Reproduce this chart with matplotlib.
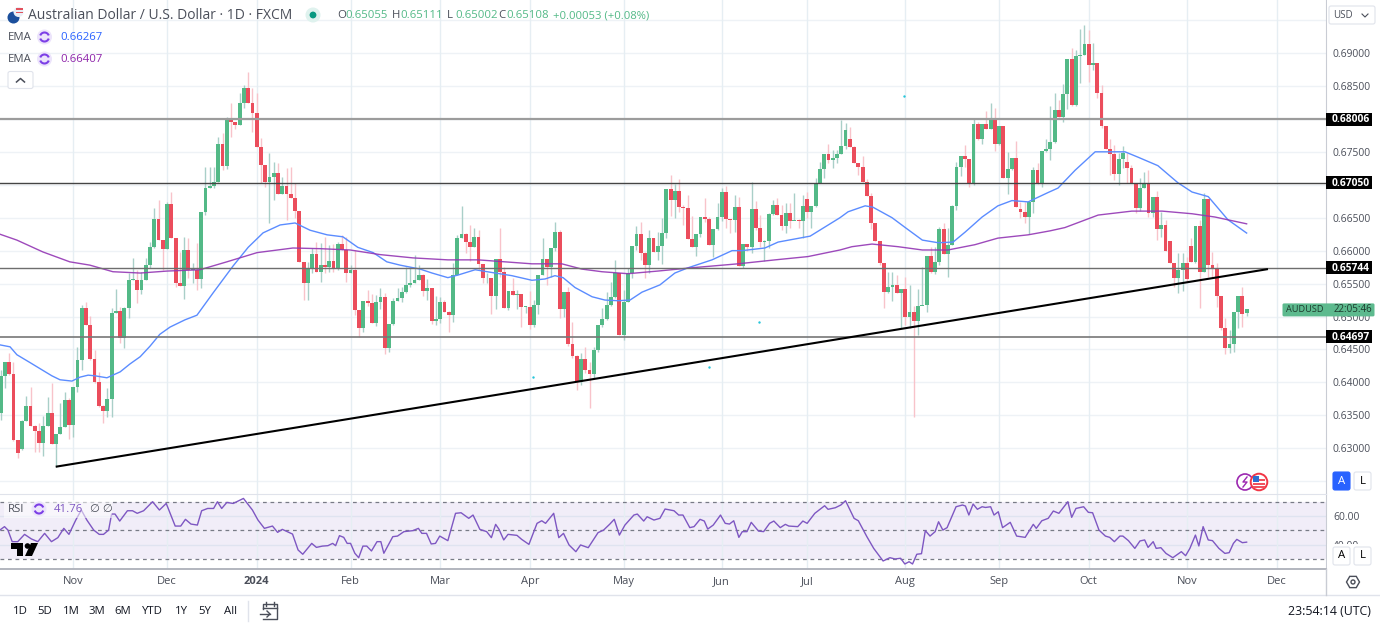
#AUD/USD daily candles with EMAs, RSI and hand drawn support lines

import numpy as np
import matplotlib
matplotlib.use("Agg")
import matplotlib.pyplot as plt
from matplotlib.patches import Rectangle, Circle, Polygon, Arc, FancyBboxPatch

# prices are kept in 1/10000 USD
close_e4 = [6410,6431,6413,6313,6293,6341,6364,6334,6326,6308,6334,6354,6307,6322,6332,6373,6335,6393,6434,6513,
6487,6436,6401,6364,6357,6375,6505,6508,6467,6513,6555,6555,6540,6555,6578,6605,6648,6616,6603,6671,
6619,6551,6546,6601,6571,6571,6557,6659,6695,6698,6704,6762,6729,6801,6795,6791,6824,6847,6824,6809,
6757,6730,6704,6712,6718,6686,6698,6686,6680,6660,6583,6551,6572,6595,6568,6578,6575,6584,6572,6610,
6601,6566,6571,6510,6483,6524,6521,6490,6522,6530,6452,6489,6524,6528,6537,6548,6551,6555,6563,6539,
6543,6493,6496,6522,6507,6502,6563,6619,6625,6613,6605,6621,6580,6558,6558,6531,6587,6568,6513,6539,
6533,6534,6515,6515,6487,6518,6563,6587,6575,6604,6628,6511,6537,6458,6440,6401,6436,6419,6413,6449,
6487,6496,6518,6530,6566,6472,6522,6566,6607,6625,6597,6578,6619,6598,6607,6627,6694,6677,6691,6667,
6665,6618,6605,6625,6651,6648,6609,6633,6651,6689,6648,6647,6667,6577,6610,6605,6663,6634,6613,6615,
6656,6670,6654,6637,6657,6645,6647,6645,6668,6659,6668,6703,6724,6747,6738,6741,6747,6759,6783,6757,
6733,6727,6704,6683,6642,6615,6581,6537,6545,6548,6536,6542,6499,6507,6493,6516,6518,6592,6568,6583,
6633,6595,6609,6668,6727,6744,6739,6703,6792,6770,6792,6785,6798,6762,6789,6710,6724,6741,6667,6659,
6651,6674,6722,6701,6751,6754,6765,6814,6803,6838,6891,6821,6896,6897,6914,6882,6885,6839,6789,6754,
6747,6716,6739,6748,6726,6703,6665,6695,6701,6657,6681,6633,6639,6599,6581,6558,6571,6581,6557,6583,
6637,6568,6678,6578,6572,6531,6483,6452,6458,6507,6531,6504,6510.8]

high_e4 = [6419,6431,6445,6431,6313,6343,6379,6393,6335,6338,6349,6378,6399,6322,6369,6385,6376,6393,6454,6518,
6522,6501,6449,6416,6366,6392,6513,6542,6515,6515,6566,6589,6571,6568,6589,6613,6665,6677,6616,6674,
6689,6619,6598,6621,6619,6581,6612,6659,6727,6727,6727,6772,6779,6803,6824,6795,6839,6852,6871,6847,
6839,6771,6730,6748,6735,6733,6712,6726,6727,6703,6660,6583,6583,6604,6613,6612,6621,6609,6610,6613,
6624,6621,6578,6601,6510,6524,6540,6534,6533,6543,6536,6489,6528,6543,6545,6575,6575,6593,6578,6565,
6557,6543,6531,6530,6525,6508,6581,6624,6668,6627,6639,6635,6631,6580,6566,6558,6587,6635,6575,6539,
6558,6540,6534,6516,6539,6525,6563,6619,6587,6604,6643,6631,6537,6545,6491,6442,6445,6454,6431,6454,
6487,6513,6537,6552,6586,6566,6540,6574,6607,6637,6643,6598,6631,6619,6628,6650,6694,6715,6701,6709,
6670,6685,6653,6625,6651,6680,6651,6633,6672,6695,6698,6648,6685,6682,6610,6610,6704,6675,6654,6616,
6657,6677,6680,6670,6672,6672,6688,6648,6685,6689,6668,6710,6735,6747,6762,6753,6753,6798,6794,6788,
6759,6733,6744,6709,6688,6642,6615,6581,6568,6568,6563,6542,6560,6548,6516,6542,6575,6592,6605,6605,
6636,6642,6635,6670,6735,6744,6761,6739,6801,6795,6792,6812,6824,6817,6789,6789,6750,6741,6767,6674,
6674,6674,6727,6733,6751,6770,6820,6839,6829,6853,6891,6908,6905,6937,6943,6935,6915,6885,6852,6789,
6770,6761,6748,6759,6748,6730,6703,6710,6719,6722,6681,6691,6659,6647,6615,6581,6596,6596,6590,6619,
6637,6647,6688,6678,6598,6581,6531,6498,6480,6507,6531,6545,6511.1]

low_e4 = [6343,6392,6411,6311,6285,6297,6341,6334,6294,6294,6288,6334,6307,6272,6322,6332,6314,6317,6385,6419,
6487,6434,6399,6363,6338,6348,6348,6505,6460,6452,6498,6555,6521,6534,6555,6574,6604,6616,6571,6603,
6619,6545,6546,6527,6558,6551,6540,6543,6654,6695,6695,6704,6722,6724,6772,6785,6791,6817,6824,6780,
6757,6703,6697,6642,6677,6686,6686,6647,6680,6650,6583,6525,6525,6566,6568,6552,6566,6568,6568,6571,
6601,6552,6566,6502,6469,6477,6516,6490,6486,6511,6443,6446,6487,6524,6522,6536,6545,6551,6555,6531,
6525,6489,6487,6490,6507,6477,6492,6563,6619,6597,6584,6605,6571,6551,6551,6504,6511,6560,6513,6510,
6533,6511,6484,6505,6481,6484,6504,6563,6548,6560,6599,6498,6499,6455,6437,6389,6396,6414,6361,6407,
6446,6484,6494,6516,6528,6472,6464,6522,6558,6601,6586,6558,6566,6598,6586,6580,6619,6653,6650,6659,
6639,6618,6605,6592,6621,6644,6609,6591,6631,6645,6635,6627,6628,6577,6574,6600,6597,6631,6605,6584,
6604,6654,6654,6631,6627,6635,6647,6635,6619,6650,6635,6667,6703,6710,6733,6726,6733,6747,6754,6757,
6733,6715,6704,6683,6633,6615,6578,6513,6536,6524,6536,6483,6487,6483,6348,6472,6518,6507,6566,6565,
6578,6595,6560,6609,6662,6713,6727,6697,6700,6768,6762,6785,6785,6752,6761,6710,6686,6722,6667,6650,
6642,6625,6657,6701,6697,6750,6738,6764,6803,6795,6815,6820,6820,6855,6897,6856,6874,6832,6786,6754,
6715,6707,6700,6726,6703,6703,6657,6660,6695,6651,6651,6616,6621,6599,6581,6545,6536,6539,6552,6583,
6581,6513,6568,6560,6558,6514,6480,6443,6445,6446,6483,6484,6500.2]

# opens follow the previous close except where the picture shows a gap
gap_opens_e4 = {0: 6354, 5: 6299, 189: 6679, 199: 6770, 239: 6663, 264: 6735, 274: 6615, 279: 6607, 292: 6505.5}

ema_fast_x = [-0.2,2.2,3.8,6.9,9.7,12,13.9,16.7,18.6,20.5,22.1,24.9,28,30.3,32.7,35,37.3,39.7,43.2,46,49.8,54.5,58,
61.5,65.5,69,72.5,76.5,80.2,83.7,87.3,90.5,93.6,98.3,101.1,104.8,107.2,111.2,115.9,119.8,124.5,127.6,129.9,131.8,
134.6,138.6,141.6,144.7,147.5,150.3,154.5,158,161.1,166.7,171.4,173.7,179.1,182.2,189.7,193.2,196.7,198.6,202.6,
204.4,208.9,212,216,219.7,223.2,226,230,233.7,237,240.8,245.4,247.8,251.8,256.5,259.5,263.5,266.5,271.2,275.9,
279.2,283,287.6,292]
ema_fast_e4 = [6457,6454,6442,6430,6419,6410,6404,6402,6408,6411,6410,6407,6416,6428,6439,6455,6473,6484,6495,6502,
6536,6577,6605,6627,6639,6642,6631,6624,6621,6605,6597,6583,6578,6572,6566,6559,6563,6571,6566,6562,6555,6557,
6562,6559,6544,6530,6525,6524,6525,6537,6548,6566,6574,6586,6600,6600,6604,6613,6622,6636,6650,6659,6668,6666,
6650,6635,6616,6612,6613,6628,6651,6668,6676,6674,6688,6695,6722,6750,6750,6750,6742,6729,6703,6689,6682,6647,6626.7]

ema_slow_x = [-0.2,3.8,9.9,16.2,20.9,26.3,32.7,39,46.7,53,60.1,68.5,74.8,81.9,88.9,96.6,104.8,111.9,118.2,124.5,
131.5,136.2,140.9,147,154,162,172.8,181.5,189.2,196.7,199.5,204.2,210.3,216,222,228.3,233.7,240.8,245.9,249.4,
257.2,265.1,272.2,279.2,284.6,292]
ema_slow_e4 = [6625,6616,6598,6583,6578,6568,6566,6569,6571,6583,6597,6604,6603,6601,6594,6589,6586,6586,6583,6580,
6580,6572,6568,6565,6569,6574,6580,6586,6591,6601,6606,6610,6606,6601,6601,6609,6619,6624,6630,6635,6654,6660,
6660,6656,6651,6640.7]

rsi_x = [-0.2,0.9,1.7,2.7,4,5.6,7.2,8.7,10.3,11.9,13.4,14.8,16,17.6,18.9,20.2,21.8,23.1,24.1,25.3,26,26.8,27.9,29.7,
30.9,32,33.5,35.6,37.2,38.8,40.9,42.2,43.3,44.6,46.1,47.1,48.5,49.9,50.8,51.8,53,54.5,56.9,59,60.3,61.8,63.7,64.9,
66,68.4,69.7,70.8,72.9,74,75.4,76.7,77.8,78.5,79.4,80.4,81.2,82,83,83.9,84.9,85.8,86.9,88.2,89.1,89.8,91.9,93,94.5,
96.6,97.9,98.7,99.8,100.9,101.9,102.9,104.8,106.6,107.9,109.7,110.7,112.3,113.9,115,116,116.8,117.9,118.9,121,122.1,
123.8,125.7,126.8,127.7,129.6,130.8,131.9,133.2,134.8,135.9,137.7,140,141.3,142.7,143.8,145,146.3,148.4,149.2,150.7,
151.5,153.1,154.5,155.7,157,157.8,158.9,159.9,161.5,162.5,163.9,164.9,165.7,167,168.7,169.8,170.8,171.8,173,173.8,
174.9,175.9,177.6,178.8,180.2,181.2,182.7,183.9,184.7,186.8,188,189,190.8,193.1,193.9,195.6,196.9,198,200,201,203,
204.6,206.8,208.4,209.6,210.9,211.9,212.9,213.7,214.7,215.8,216.7,217.8,219,219.8,220.8,221.8,223.9,225.4,226.1,
226.9,227.9,228.9,230,230.8,232,232.8,233.8,234.8,236.6,238.1,240.1,242,242.7,244,245.5,246.7,248,250.1,251,252,
253.8,254.9,255.9,257.4,258.9,259.9,261,262.3,263,264.3,265.8,267,268.1,268.9,270.1,270.8,271.9,273.1,274.7,276.7,
277.7,278.7,280,280.8,281.8,283,284,285.5,286.9,287.9,288.9,289.7,291,292]
rsi_values = [50.2,52.6,50.2,42.1,42.1,47.2,44,42.1,47.9,42.1,44.9,51.4,47.2,57.2,64.2,57.2,50.2,47.2,47.2,50.2,61.4,
61.4,56.5,63.7,63.7,61.9,63.7,70,64.2,68.8,53,53,57.7,54.4,53.7,63.7,65.3,65.3,70,65.3,69.5,68.8,72.3,64.2,57.2,51.4,
53,48.6,50.7,47.4,36.3,33.3,40.9,38.1,39,39.3,40.9,39.3,46.3,45.1,40.9,40.9,34,30.9,39,39,35.6,42.1,42.1,34,45.6,46,
49.1,49.8,51.4,47.9,47.9,40.5,40.9,46,42.8,61.9,62.3,58.4,60.7,50.7,49.1,44.9,54.2,50.7,43.3,47.2,46.5,43.7,40.2,54.9,
56.7,54.9,61.9,44.9,47.9,39.8,35.1,39.8,37.9,48.4,50.2,54.2,57.7,46.7,53.7,60.7,61.4,56.5,59.5,57.2,58.4,64.9,64.2,
63.7,60.7,60.7,51.9,52.6,57.7,56.5,50.9,53.7,60.7,54.9,54.4,56.7,45.1,49.1,49.1,55.6,49.5,49.1,54.9,56.5,51.9,
54.2,53,52.6,56.5,54.9,61.9,67.2,64.7,65.8,67.7,70.7,58.4,56.7,45.6,37.4,28.6,30.9,30,30.5,26.5,28.1,26.5,33.3,33.7,
49.8,46,49.1,56,50.2,51.9,66.5,67.7,67,60.7,68.4,64.7,66.5,66,66.5,60.7,63,51.9,55.6,46,45.1,54.2,51.4,56.7,58.4,63.5,
61.9,70,59.1,65.3,66.5,62.6,62.3,50.2,46,45.1,42.1,46,46,42.8,37.4,42.6,43.3,38.1,42.1,37.4,37.9,33.9,30.9,35.1,32.3,
37.4,46.7,39.1,52.6,43.3,42.8,37.4,33.9,34.4,40.9,43.7,41.4,41.76]

# levels, labels as printed on the scale
support_levels = [0.67998, 0.67028, 0.65737, 0.64690]
support_labels = ["0.68006", "0.67050", "0.65744", "0.64697"]
support_colors = ["#9c9c9c", "#444444", "#6e6e6e", "#777777"]
support_widths = [1.6, 1.0, 1.0, 1.2]
trend_x = [12.9, 297]
trend_y = [0.6272, 0.6572]
dots_x = [211.7, 177.7, 124.8, 166]
dots_y = [0.6835, 0.6492, 0.6408, 0.6423]

month_ticks = [17, 39, 60, 82, 103, 124, 146, 169, 189, 212, 234, 255, 278, 299]
month_labels = ["Nov", "Dec", "2024", "Feb", "Mar", "Apr", "May", "Jun", "Jul", "Aug", "Sep", "Oct", "Nov", "Dec"]
grid_prices = [0.625, 0.63, 0.635, 0.64, 0.645, 0.65, 0.655, 0.66, 0.665, 0.67, 0.675, 0.68, 0.685, 0.69, 0.695]
price_ticks = [0.63, 0.635, 0.64, 0.645, 0.65, 0.655, 0.66, 0.665, 0.675, 0.685, 0.69]
ohlc_labels = ["O", "H", "L", "C"]
ohlc_values = ["0.65055", "0.65111", "0.65002", "0.65108"]
ohlc_x = [337, 392, 447, 498]
range_buttons = ["1D", "5D", "1M", "3M", "6M", "YTD", "1Y", "5Y", "All"]
range_button_x = [20, 45, 71, 97, 123, 152, 181, 205, 231]

UP = "#53b987"
DOWN = "#eb4d5c"
UP_WICK = "#a9cfc8"
DOWN_WICK = "#f8c3ca"
GRID = "#eef2f6"
TEXT = "#4a4e59"
W, H = 1380, 627
FONT = "Open Sans"


def px_axes(fig, left, top, right, bottom):
    return fig.add_axes([left / W, 1 - bottom / H, (right - left) / W, (bottom - top) / H])


def draw_cycle_icon(ui, x, y):
    ui.add_patch(Circle((x, y), 7.5, color="#ece4fb", lw=0))
    ui.add_patch(Arc((x, y), 9, 9, theta1=20, theta2=160, color="#7c3fe6", lw=1.5))
    ui.add_patch(Arc((x, y), 9, 9, theta1=200, theta2=340, color="#7c3fe6", lw=1.5))


def draw_button(ui, x, y, w, h, face="white", edge="#e0e3eb"):
    ui.add_patch(FancyBboxPatch((x + 2, y + 2), w - 4, h - 4, boxstyle="round,pad=2", fc=face, ec=edge, lw=0.8))


def main():
    plt.rcParams["font.family"] = [FONT, "DejaVu Sans"]

    close = np.array(close_e4) / 10000
    high = np.array(high_e4) / 10000
    low = np.array(low_e4) / 10000
    open_ = np.r_[close[0], close[:-1]]
    for i, value in gap_opens_e4.items():
        open_[i] = value / 10000
    x = np.arange(len(close))
    up = close >= open_

    fig = plt.figure(figsize=(W / 100, H / 100), dpi=100)

    # price pane
    ax = px_axes(fig, 0, 0, 1326, 494)
    ax.set_xlim(-0.157, 310.6)
    ax.set_ylim(0.69 - 441 / 6588, 0.69 + 53 / 6588)
    for level in grid_prices:
        ax.axhline(level, color=GRID, lw=1, zorder=0)
    for tick in month_ticks:
        ax.axvline(tick, color="#e6eef3", lw=1, zorder=0)
    ax.vlines(x[up], low[up], high[up], color=UP_WICK, lw=1, zorder=2)
    ax.vlines(x[~up], low[~up], high[~up], color=DOWN_WICK, lw=1, zorder=2)
    body_bottom = np.minimum(open_, close)
    body_height = np.maximum(np.abs(close - open_), 0.00012)
    ax.bar(x[up], body_height[up], bottom=body_bottom[up], width=0.9, color=UP, lw=0, zorder=3)
    ax.bar(x[~up], body_height[~up], bottom=body_bottom[~up], width=0.9, color=DOWN, lw=0, zorder=3)
    ax.plot(ema_fast_x, np.array(ema_fast_e4) / 10000, color="#5b8cff", lw=1, zorder=4)
    ax.plot(ema_slow_x, np.array(ema_slow_e4) / 10000, color="#9336b4", lw=1, zorder=4, alpha=0.9)
    for level, color, width in zip(support_levels, support_colors, support_widths):
        ax.axhline(level, color=color, lw=width, zorder=5)
    ax.plot(trend_x, trend_y, color="black", lw=1.5, zorder=6, solid_capstyle="butt")
    ax.scatter(dots_x, dots_y, s=3, color="#26c6da", zorder=6, lw=0)
    ax.set_xticks([])
    ax.yaxis.tick_right()
    ax.set_yticks(price_ticks)
    ax.set_yticklabels([f"{p:.5f}" for p in price_ticks], fontsize=7.4, color=TEXT)
    ax.tick_params(axis="y", length=0, pad=5)
    for side in ["top", "left", "bottom"]:
        ax.spines[side].set_visible(False)
    ax.spines["right"].set_color("#c9ccd4")

    # RSI pane
    rsi = px_axes(fig, 0, 494, 1326, 569)
    rsi.set_xlim(-0.157, 310.6)
    rsi.set_ylim(23.0, 75.4)
    rsi.axhspan(30, 70, color="#7e57c2", alpha=0.1, lw=0, zorder=0)
    for level in [60, 40]:
        rsi.axhline(level, color="#dfe3f0", lw=1, zorder=1)
    for tick in month_ticks:
        rsi.axvline(tick, color="#e6eef3", lw=1, zorder=1)
    for level in [70, 50, 30]:
        rsi.axhline(level, color="#787b86", lw=0.9, ls=(0, (3, 3)), zorder=2)
    rsi.plot(rsi_x, rsi_values, color="#7e57c2", lw=1, zorder=3)
    rsi.set_xticks(month_ticks)
    rsi.set_xticklabels(month_labels, fontsize=8, color=TEXT)
    rsi.get_xticklabels()[2].set_fontweight("bold")
    rsi.tick_params(axis="x", length=0, pad=5)
    rsi.yaxis.tick_right()
    rsi.set_yticks([60, 40])
    rsi.set_yticklabels(["60.00", "40.00"], fontsize=7.4, color=TEXT)
    rsi.tick_params(axis="y", length=0, pad=5)
    rsi.spines["left"].set_visible(False)
    rsi.spines["top"].set_color("#e0e3eb")
    rsi.spines["right"].set_color("#c9ccd4")
    rsi.spines["bottom"].set_color("#b2b5be")
    rsi.spines["bottom"].set_linewidth(1.4)

    # everything around the panes, drawn in screen pixels
    ui = fig.add_axes([0, 0, 1, 1], facecolor="none")
    ui.set_xlim(0, W)
    ui.set_ylim(H, 0)
    ui.axis("off")

    # legend
    ui.add_patch(Circle((13.5, 17.5), 6, color="#1b4f9c", lw=0))
    ui.add_patch(Circle((18.5, 12), 5, color="#e8eef6", lw=0))
    ui.add_patch(Rectangle((16, 8), 6.5, 1.6, color="#e2505c", lw=0))
    ui.add_patch(Rectangle((16, 11.5), 6.5, 1.6, color="#e2505c", lw=0))
    ui.text(28, 15.5, "Australian Dollar / U.S. Dollar · 1D · FXCM", fontsize=10, color=TEXT, va="center")
    ui.add_patch(Circle((313, 15), 7.5, color="#dff2ee", lw=0))
    ui.add_patch(Circle((313, 15), 3.4, color="#089981", lw=0))
    for label, value, x_pos in zip(ohlc_labels, ohlc_values, ohlc_x):
        ui.text(x_pos, 15.5, label, fontsize=8.2, color=TEXT, va="center")
        ui.text(x_pos + 8.5, 15.5, value, fontsize=8.2, color=UP, va="center")
    ui.text(553, 15.5, "+0.00053 (+0.08%)", fontsize=8.1, color=UP, va="center")
    ui.text(8, 37, "EMA", fontsize=8.2, color=TEXT, va="center")
    ui.text(8, 59, "EMA", fontsize=8.2, color=TEXT, va="center")
    draw_cycle_icon(ui, 44.5, 37)
    draw_cycle_icon(ui, 44.5, 59)
    ui.text(60, 37, "0.66267", fontsize=8.2, color="#2962ff", va="center")
    ui.text(60, 59, "0.66407", fontsize=8.2, color="#8e24aa", va="center")
    draw_button(ui, 8, 71.5, 25, 17)
    ui.plot([16.5, 20.5, 24.5], [82, 78.5, 82], color=TEXT, lw=1.1)

    # RSI legend and logo
    ui.add_patch(Rectangle((4, 500), 108, 18, color="white", alpha=0.55, lw=0))
    ui.text(8, 509.5, "RSI", fontsize=8.2, color=TEXT, va="center")
    draw_cycle_icon(ui, 39, 509)
    ui.text(54, 509.5, "41.76", fontsize=8.2, color="#7e57c2", va="center")
    ui.text(90, 509.5, "∅ ∅", fontsize=8.2, color=TEXT, va="center")
    ui.add_patch(Polygon([(11, 543), (23, 543), (23, 556), (17, 556), (17, 549), (11, 549)], color="black", lw=0))
    ui.add_patch(Circle((27.5, 546), 2.8, color="black", lw=0))
    ui.add_patch(Polygon([(31, 543), (38, 543), (32, 556), (25, 556)], color="black", lw=0))

    # right scale chrome
    ui.add_patch(Rectangle((1327, 0), 53, 30, color="white", lw=0))
    draw_button(ui, 1329, 6, 46, 18)
    ui.text(1333, 15.5, "USD", fontsize=7, color=TEXT, va="center")
    ui.plot([1362, 1365, 1368], [14, 17, 14], color=TEXT, lw=0.8)
    for level, label in zip(support_levels, support_labels):
        y_px = 53 + (0.69 - level) * 6588
        ui.add_patch(Rectangle((1326, y_px - 6.5), 45.5, 13, color="black", lw=0))
        ui.text(1350.5, y_px + 0.3, label, fontsize=7.4, color="white", ha="center", va="center", fontweight="bold")
    y_px = 53 + (0.69 - close[-1]) * 6588
    ui.add_patch(FancyBboxPatch((1284, y_px - 4.5), 89, 10, boxstyle="round,pad=1.5", fc="#5dba8e", ec="none"))
    ui.text(1286, y_px + 0.5, "AUDUSD", fontsize=6.6, color="#1c3a2c", va="center")
    ui.text(1372, y_px + 0.5, "22:05:46", fontsize=7, color="#1c3a2c", va="center", ha="right")

    draw_button(ui, 1333, 472, 17, 18, face="#2962ff", edge="#2962ff")
    ui.text(1341.5, 481, "A", fontsize=8.2, color="white", ha="center", va="center")
    draw_button(ui, 1354, 472, 17, 18)
    ui.text(1362.5, 481, "L", fontsize=8.2, color="black", ha="center", va="center")
    ui.add_patch(Rectangle((1327, 544), 53, 24, color="white", lw=0))
    draw_button(ui, 1333, 547, 17, 18)
    ui.text(1341.5, 556, "A", fontsize=8.2, color="black", ha="center", va="center")
    draw_button(ui, 1354, 547, 17, 18)
    ui.text(1362.5, 556, "L", fontsize=8.2, color="black", ha="center", va="center")

    # gear
    hex_angles = np.deg2rad(np.arange(0, 360, 60))
    ui.add_patch(Polygon(np.c_[1353 + 6.5 * np.cos(hex_angles), 582 + 6.5 * np.sin(hex_angles)], fc="none", ec=TEXT, lw=1))
    ui.add_patch(Circle((1353, 582), 2, fc="none", ec=TEXT, lw=1))

    # event badges
    ui.add_patch(Circle((1245, 482), 8, fc="white", ec="#9c27b0", lw=1.2))
    ui.plot([1247, 1243, 1247, 1243], [477, 482, 482, 487], color="#9c27b0", lw=1)
    ui.add_patch(Circle((1259, 482), 8.3, fc="white", ec="#f23645", lw=1.4))
    for bar_y in [479, 483, 486]:
        ui.add_patch(Rectangle((1253, bar_y), 12, 1.5, color="#f0525f", lw=0))
    ui.add_patch(Rectangle((1253, 476), 6, 5.5, color="#2f6fd0", lw=0))

    # bottom bar
    ui.plot([0, W], [595, 595], color="#e0e3eb", lw=1)
    ui.plot([1326, 1326], [569, 595], color="#c9ccd4", lw=1)
    for label, x_btn in zip(range_buttons, range_button_x):
        ui.text(x_btn, 611.5, label, fontsize=8.2, color="#131722", ha="center", va="center")
    ui.plot([248, 248], [601, 621], color="#e0e3eb", lw=1)
    ui.plot([263, 263, 277, 277, 263], [609, 604, 604, 619, 619], color=TEXT, lw=1)
    ui.plot([263, 277], [608, 608], color=TEXT, lw=1)
    ui.plot([266, 266], [602, 606], color=TEXT, lw=1)
    ui.plot([274, 274], [602, 606], color=TEXT, lw=1)
    ui.plot([260, 270], [614, 614], color=TEXT, lw=1)
    ui.plot([267, 270, 267], [611, 614, 617], color=TEXT, lw=1)
    ui.text(1371, 611.5, "23:54:14 (UTC)", fontsize=8.9, color="#131722", ha="right", va="center")

    fig.savefig("out.png", dpi=100)


if __name__ == "__main__":
    main()
